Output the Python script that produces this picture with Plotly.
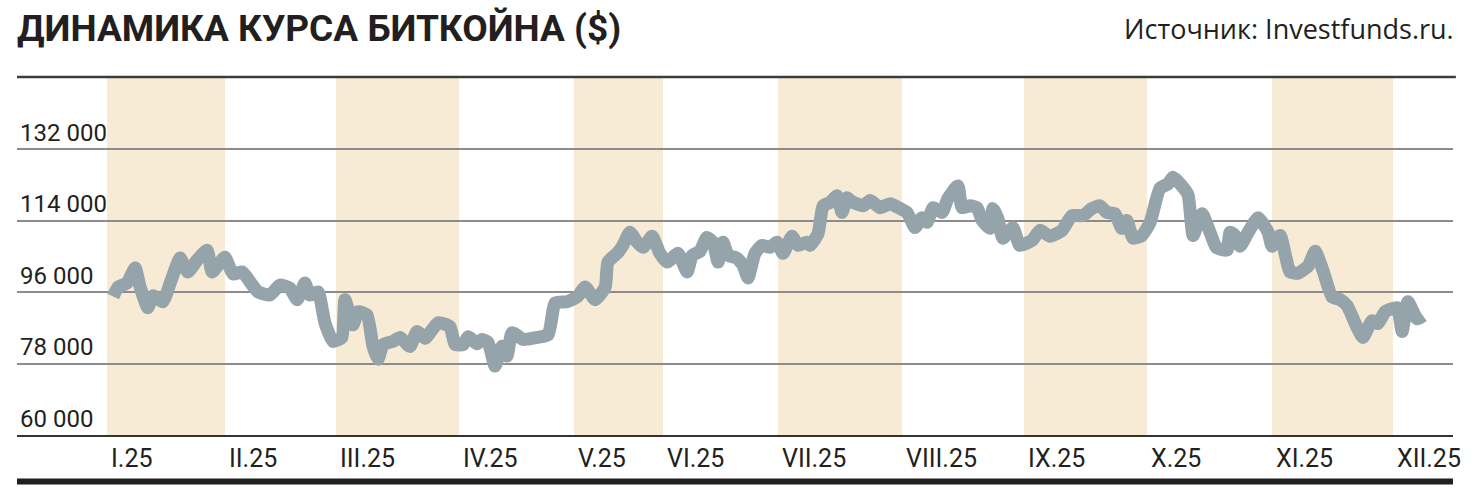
import plotly.graph_objects as go

# ---- data ----
# x positions on the chart's time scale (in days from 1 Jan, as drawn), BTC price in $
day_pos = [1.6, 2.9, 5.2, 7.3, 8.6, 10.6, 12.0, 14.5, 16.4, 19.0, 21.0, 23.4, 26.0, 27.3,
           30.6, 32.7, 35.1, 37.9, 39.2, 42.3, 44.9, 47.5, 49.4, 51.4, 52.7, 54.8, 56.6, 58.7,
           61.0, 61.8, 63.9, 65.2, 67.5, 69.1, 70.4, 71.7, 74.3, 76.1, 78.7, 80.5, 82.6, 86.0,
           89.1, 90.4, 92.5, 93.8, 96.1, 97.4, 99.0, 100.8, 102.6, 103.9, 105.2, 108.1, 111.7,
           114.6, 116.4, 119.5, 122.1, 124.2, 126.8, 129.4, 130.1, 132.5, 134.0, 135.8, 137.7,
           139.2, 141.6, 143.6, 145.5, 148.3, 150.7, 152.0, 154.0, 155.8, 157.4, 158.7, 160.0,
           161.3, 163.6, 165.2, 166.5, 168.3, 170.1, 172.2, 174.0, 175.6, 177.9, 179.5, 181.8,
           182.6, 184.7, 186.0, 187.8, 189.6, 190.9, 192.2, 193.5, 196.4, 198.2, 200.8, 203.4,
           206.0, 207.8, 209.9, 211.7, 213.0, 214.6, 216.9, 218.4, 221.0, 222.1, 224.2, 226.0,
           227.3, 229.4, 230.1, 231.4, 232.7, 235.3, 237.1, 240.3, 242.3, 244.9, 248.1, 250.6,
           253.5, 255.8, 257.9, 259.7, 261.8, 263.6, 264.9, 266.5, 268.8, 270.9, 273.5, 275.6,
           276.9, 279.2, 280.8, 282.1, 284.4, 286.5, 288.1, 290.9, 291.7, 293.0, 294.3, 296.4,
           299.0, 301.6, 302.6, 304.7, 307.3, 309.4, 312.0, 313.8, 315.8, 318.2, 320.3, 322.1,
           324.7, 326.2, 328.6, 330.1, 332.0, 335.1, 336.4, 337.9, 340.3, 341.8]
price = [94900, 97300, 98300, 102100, 97300, 92100, 95100, 93600, 98300, 104600, 101100, 104100, 106600, 101100,
         104800, 100600, 101100, 97600, 96100, 95300, 97800, 97000, 94100, 98300, 95300, 96100, 88300, 83600,
         84600, 94100, 87800, 91100, 90300, 82300, 79100, 82800, 83600, 84600, 82300, 86100, 84400, 88300,
         87300, 82800, 82800, 84800, 83000, 84100, 83300, 77400, 82400, 79900, 85800, 84100, 84600,
         85300, 93300, 93600, 94800, 97300, 94100, 97300, 103600, 105800, 107800, 111100, 108600,
         107300, 110100, 105800, 103600, 105800, 101100, 105300, 106300, 109800, 108600, 103600, 108600,
         105300, 104600, 102800, 99600, 105800, 107800, 107300, 108600, 105800, 110100, 107800, 108600,
         107800, 110800, 117800, 118600, 120300, 116100, 119800, 118800, 117800, 119100, 117300, 118300,
         117100, 116100, 112300, 114800, 113600, 117300, 116100, 119600, 122800, 117300, 117800, 117300,
         114100, 112100, 117100, 114600, 109600, 112300, 107800, 109100, 111600, 110100, 111600, 115300,
         115300, 117100, 117800, 116100, 115800, 112100, 114100, 109600, 110300, 113500, 122200, 123300,
         125000, 122800, 120500, 110300, 115800, 111100, 107300, 106600, 111100, 110300, 107600, 111100,
         114800, 111100, 107600, 110300, 101100, 100800, 102600, 106300, 101600, 94800, 94100, 92600,
         87100, 84600, 88800, 88100, 91100, 92100, 86100, 93600, 89300, 90100]

month_labels = ["I.25", "II.25", "III.25", "IV.25", "V.25", "VI.25", "VII.25",
                "VIII.25", "IX.25", "X.25", "XI.25", "XII.25"]
month_start = [0, 30.65, 59.48, 91.43, 121.30, 144.42, 174.29, 206.49, 238.18, 270.13, 302.60, 334.03]
month_end_last = 357.0

y_ticks = [60000, 78000, 96000, 114000, 132000]
y_tick_text = ["60 000", "78 000", "96 000", "114 000", "132 000"]

title_text = "ДИНАМИКА КУРСА БИТКОЙНА ($)"
source_text = "Источник: Investfunds.ru."

# ---- styles ----
NARROW = "Roboto, Liberation Sans, sans-serif"
TXT = "#231f20"
BAND = "#F8EBD6"
LINE = "#95A3AB"

fig = go.Figure()
fig.add_trace(go.Scatter(
    x=day_pos, y=price, mode="lines",
    line=dict(color=LINE, width=13, shape="spline", smoothing=0.5),
    hoverinfo="skip", showlegend=False,
))

shapes = []
for i in range(0, 12, 2):
    x1 = month_start[i + 1] if i + 1 < len(month_start) else month_end_last
    shapes.append(dict(type="rect", xref="x", yref="paper", x0=month_start[i], x1=x1,
                       y0=0, y1=1, fillcolor=BAND, line=dict(width=0), layer="below"))
# top rule and bottom thick rule
shapes.append(dict(type="line", xref="paper", yref="paper", x0=0, x1=1.002, y0=1.003, y1=1.003,
                   line=dict(color="#3c3c3c", width=2.5)))
shapes.append(dict(type="line", xref="paper", yref="paper", x0=0, x1=1.0, y0=-0.130, y1=-0.130,
                   line=dict(color=TXT, width=6)))

annotations = []
for lab, xs in zip(month_labels, month_start):
    annotations.append(dict(x=xs, y=0, xref="x", yref="paper", text=lab, showarrow=False,
                            xanchor="left", yanchor="top", xshift=2, yshift=-7,
                            font=dict(family=NARROW, size=25, color=TXT)))
annotations.append(dict(x=1.002, y=1.14, xref="paper", yref="paper", text=source_text,
                        showarrow=False, xanchor="right", yanchor="middle",
                        font=dict(family="Open Sans, Liberation Sans, sans-serif", size=27, color=TXT)))
annotations.append(dict(x=0, y=1.14, xref="paper", yref="paper", text="<b>" + title_text + "</b>",
                        showarrow=False, xanchor="left", yanchor="middle", xshift=-2,
                        font=dict(family=NARROW, size=37, color=TXT)))

fig.update_layout(
    width=1478, height=495, autosize=False,
    margin=dict(l=17, r=25, t=78, b=60),
    paper_bgcolor="white", plot_bgcolor="white",
    shapes=shapes, annotations=annotations,
    xaxis=dict(range=[-23.38, 349.61], showgrid=False, zeroline=False, showticklabels=False,
               showline=True, linecolor="#333333", linewidth=2, ticks=""),
    yaxis=dict(range=[60000, 150000], tickvals=y_ticks, ticktext=y_tick_text,
               ticklabelposition="inside top", showgrid=True, gridcolor="#8c8c8c", gridwidth=1.5,
               zeroline=False, showline=False, ticks="",
               tickfont=dict(family=NARROW, size=24, color=TXT)),
)

fig.write_html("out.html", config={"displayModeBar": False},
               post_script="document.body.style.margin='0';")
